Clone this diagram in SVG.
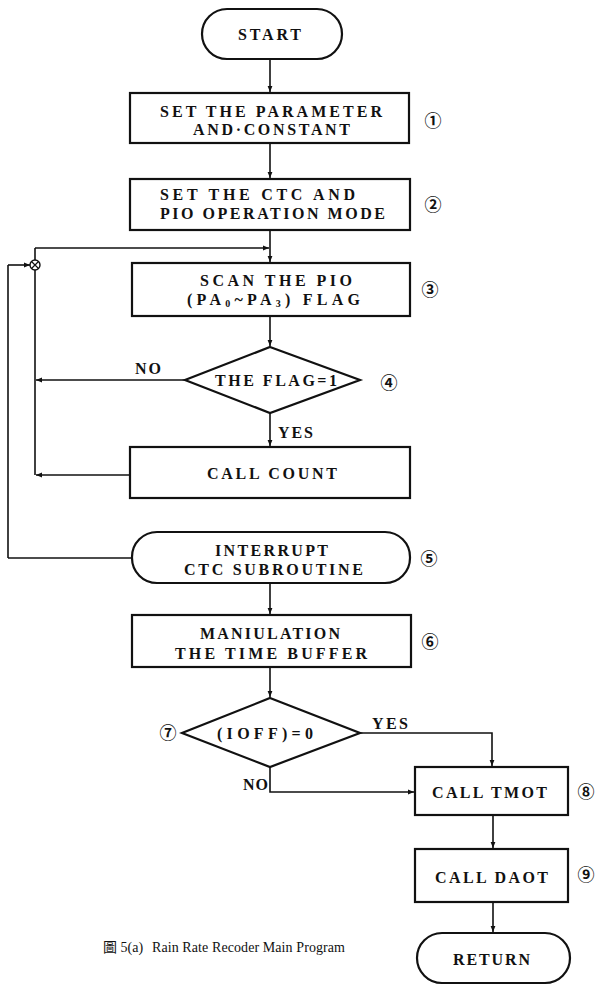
<svg xmlns="http://www.w3.org/2000/svg" width="597" height="985" viewBox="0 0 597 985">
<style>
.box{fill:#fff;stroke:#111;stroke-width:2.2}
.ln{fill:none;stroke:#111;stroke-width:1.6}
.t{font-family:"Liberation Serif",serif;font-weight:bold;font-size:16px;fill:#111}
.n{font-family:"Noto Sans CJK JP","DejaVu Sans",sans-serif;font-weight:bold;font-size:17px;fill:#111}
.c{font-family:"Liberation Serif","Noto Sans CJK TC",serif;font-size:14px;fill:#111}
</style>
<defs>
<marker id="ah" viewBox="0 0 10 10" refX="10" refY="5" markerWidth="6" markerHeight="6" orient="auto" markerUnits="userSpaceOnUse">
<path d="M0,1 L10,5 L0,9 z" fill="#111"/>
</marker>
</defs>
<rect width="597" height="985" fill="#fff"/>
<g id="connectors">
<line class="ln" x1="270" y1="59" x2="270" y2="92" marker-end="url(#ah)"/>
<line class="ln" x1="270" y1="143" x2="270" y2="178" marker-end="url(#ah)"/>
<line class="ln" x1="270" y1="230" x2="270" y2="262" marker-end="url(#ah)"/>
<line class="ln" x1="35" y1="248" x2="269" y2="248" marker-end="url(#ah)"/>
<line class="ln" x1="35" y1="248" x2="35" y2="260"/>
<line class="ln" x1="35" y1="270" x2="35" y2="475"/>
<line class="ln" x1="8" y1="558" x2="8" y2="265"/>
<line class="ln" x1="8" y1="265" x2="30" y2="265" marker-end="url(#ah)"/>
<line class="ln" x1="270" y1="316" x2="270" y2="346" marker-end="url(#ah)"/>
<line class="ln" x1="185" y1="380" x2="36" y2="380" marker-end="url(#ah)"/>
<line class="ln" x1="270" y1="413" x2="270" y2="446" marker-end="url(#ah)"/>
<line class="ln" x1="130" y1="475" x2="36" y2="475" marker-end="url(#ah)"/>
<line class="ln" x1="132" y1="558" x2="8" y2="558"/>
<line class="ln" x1="270" y1="583" x2="270" y2="614" marker-end="url(#ah)"/>
<line class="ln" x1="270" y1="667" x2="270" y2="697" marker-end="url(#ah)"/>
<polyline class="ln" points="360,733 492,733 492,766" marker-end="url(#ah)"/>
<polyline class="ln" points="270,767 270,792 414,792" marker-end="url(#ah)"/>
<line class="ln" x1="493" y1="815" x2="493" y2="848" marker-end="url(#ah)"/>
<line class="ln" x1="493" y1="902" x2="493" y2="932" marker-end="url(#ah)"/>
</g>
<g id="start">
<rect class="box" x="202" y="9" width="140" height="50" rx="25"/>
<text class="t" x="238" y="40" textLength="63" lengthAdjust="spacing">START</text>
</g>
<g id="n1">
<rect class="box" x="130" y="93" width="279" height="50"/>
<text class="t" x="160" y="117" textLength="222" lengthAdjust="spacing">SET THE PARAMETER</text>
<text class="t" x="193" y="135" textLength="157" lengthAdjust="spacing">AND·CONSTANT</text>
<text class="n" x="433" y="127" text-anchor="middle">①</text>
</g>
<g id="n2">
<rect class="box" x="130" y="179" width="280" height="51"/>
<text class="t" x="160" y="200" textLength="195" lengthAdjust="spacing">SET THE CTC AND</text>
<text class="t" x="160" y="219" textLength="225" lengthAdjust="spacing">PIO OPERATION MODE</text>
<text class="n" x="433" y="211" text-anchor="middle">②</text>
</g>
<g id="merge">
<circle cx="35" cy="265" r="5" fill="#fff" stroke="#111" stroke-width="1.4"/>
<path d="M31.5,261.5 L38.5,268.5 M38.5,261.5 L31.5,268.5" stroke="#111" stroke-width="1.2"/>
</g>
<g id="n3">
<rect class="box" x="132" y="263" width="278" height="53"/>
<text class="t" x="200" y="286" textLength="152" lengthAdjust="spacing">SCAN THE PIO</text>
<text class="t" x="187" y="305" textLength="173" lengthAdjust="spacing">(PA<tspan font-size="10" dy="2">0</tspan><tspan dy="-2">~PA</tspan><tspan font-size="10" dy="2">3</tspan><tspan dy="-2">) FLAG</tspan></text>
<text class="n" x="430" y="296" text-anchor="middle">③</text>
</g>
<g id="n4">
<polygon class="box" points="270,347 360,380 270,413 185,380"/>
<text class="t" x="215" y="386" textLength="122" lengthAdjust="spacing">THE FLAG=1</text>
<text class="t" x="135" y="374" textLength="26" lengthAdjust="spacing">NO</text>
<text class="t" x="278" y="438" textLength="35" lengthAdjust="spacing">YES</text>
<text class="n" x="389" y="389" text-anchor="middle">④</text>
</g>
<g id="n_count">
<rect class="box" x="130" y="447" width="280" height="51"/>
<text class="t" x="207" y="479" textLength="130" lengthAdjust="spacing">CALL COUNT</text>
</g>
<g id="n5">
<rect class="box" x="132" y="532" width="278" height="51" rx="25"/>
<text class="t" x="215" y="556" textLength="113" lengthAdjust="spacing">INTERRUPT</text>
<text class="t" x="184" y="575" textLength="179" lengthAdjust="spacing">CTC SUBROUTINE</text>
<text class="n" x="429" y="565" text-anchor="middle">⑤</text>
</g>
<g id="n6">
<rect class="box" x="132" y="615" width="279" height="52"/>
<text class="t" x="200" y="639" textLength="140" lengthAdjust="spacing">MANIULATION</text>
<text class="t" x="175" y="659" textLength="192" lengthAdjust="spacing">THE TIME BUFFER</text>
<text class="n" x="430" y="648" text-anchor="middle">⑥</text>
</g>
<g id="n7">
<polygon class="box" points="270,698 360,733 270,767 182,733"/>
<text class="t" x="217" y="739" textLength="96" lengthAdjust="spacing">(IOFF)=0</text>
<text class="t" x="372" y="729" textLength="36" lengthAdjust="spacing">YES</text>
<text class="t" x="243" y="790" textLength="25" lengthAdjust="spacing">NO</text>
<text class="n" x="168" y="739" text-anchor="middle">⑦</text>
</g>
<g id="n8">
<rect class="box" x="415" y="767" width="153" height="48"/>
<text class="t" x="432" y="798" textLength="115" lengthAdjust="spacing">CALL TMOT</text>
<text class="n" x="586" y="798" text-anchor="middle">⑧</text>
</g>
<g id="n9">
<rect class="box" x="415" y="849" width="153" height="53"/>
<text class="t" x="435" y="883" textLength="113" lengthAdjust="spacing">CALL DAOT</text>
<text class="n" x="586" y="881" text-anchor="middle">⑨</text>
</g>
<g id="ret">
<rect class="box" x="417" y="933" width="153" height="50" rx="25"/>
<text class="t" x="453" y="965" textLength="77" lengthAdjust="spacing">RETURN</text>
</g>
<g id="caption">
<text class="c" x="103" y="952">圖 5(a)</text>
<text class="c" x="152" y="952" textLength="193" lengthAdjust="spacing">Rain Rate Recoder Main Program</text>
</g>
</svg>
